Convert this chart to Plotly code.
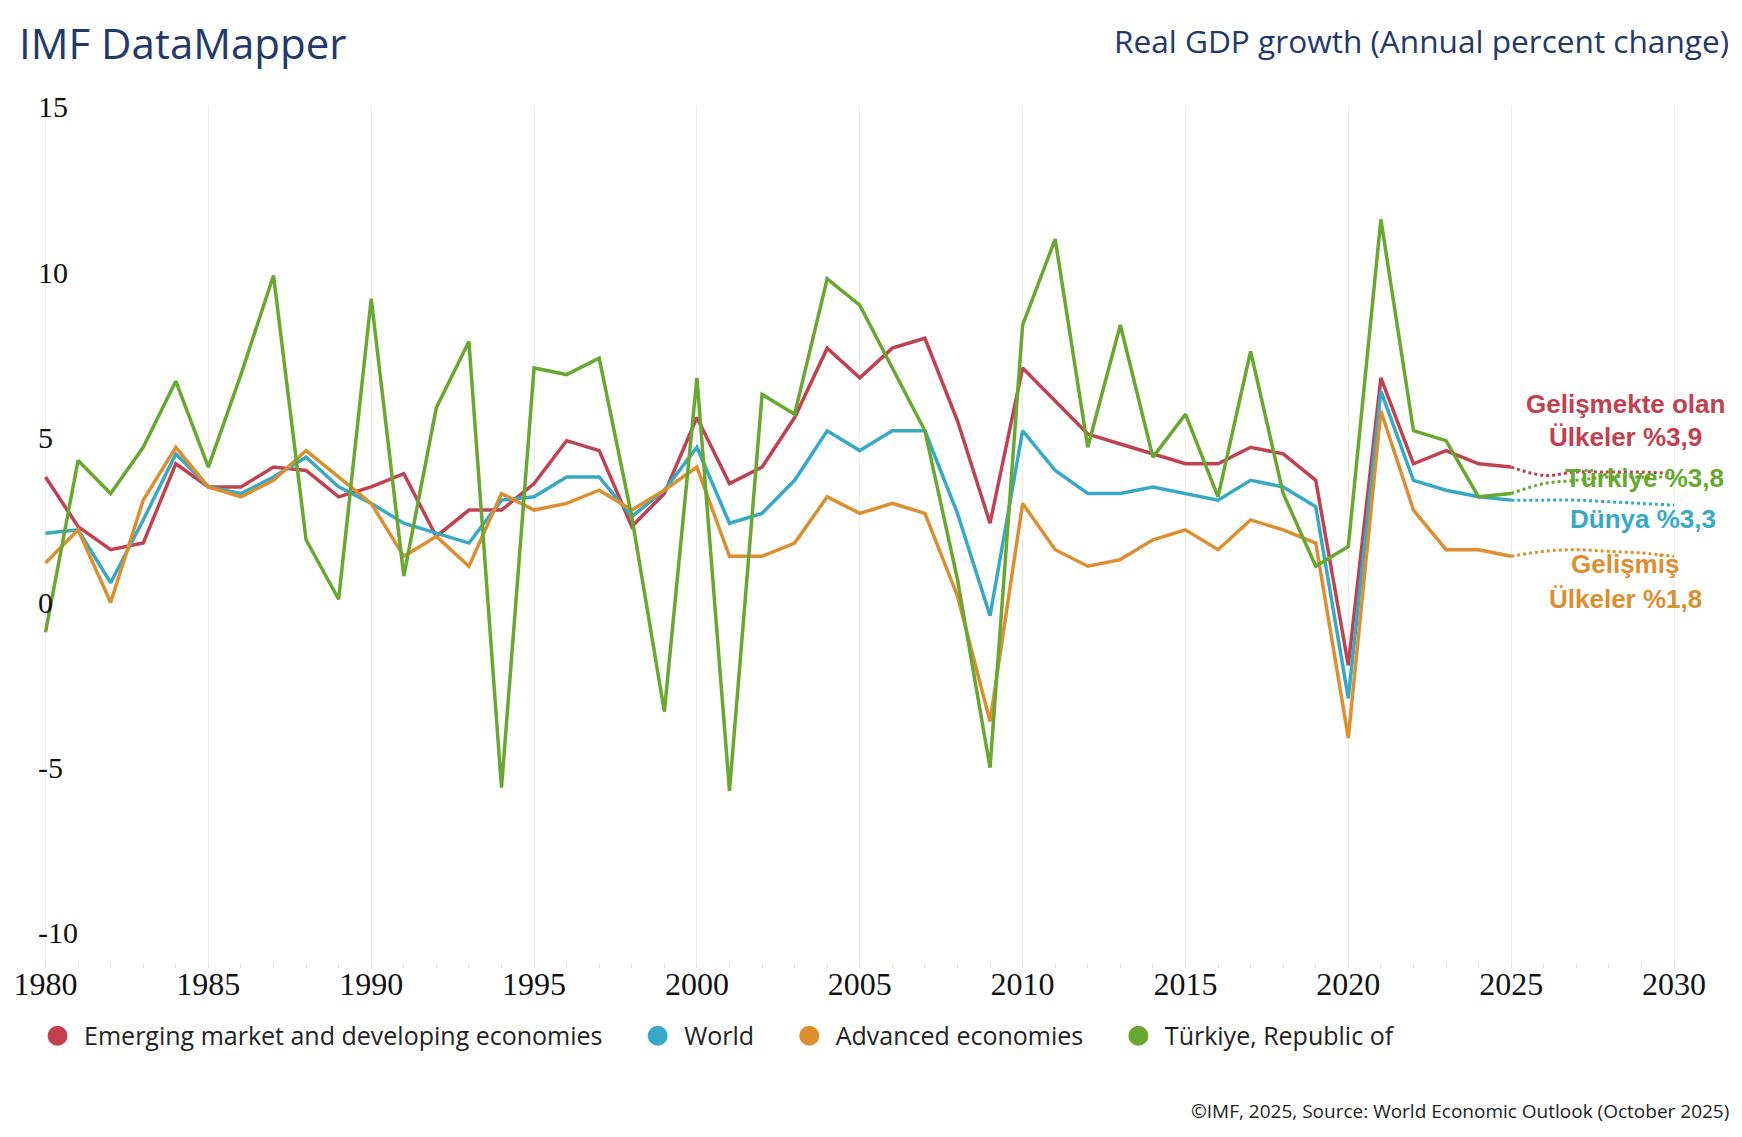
import plotly.graph_objects as go

years = list(range(1980, 2026))
proj_years = list(range(2025, 2031))

emde = [3.8, 2.3, 1.6, 1.8, 4.2, 3.5, 3.5, 4.1, 4.0, 3.2,
        3.5, 3.9, 2.0, 2.8, 2.8, 3.6, 4.9, 4.6, 2.3, 3.3,
        5.6, 3.6, 4.1, 5.6, 7.7, 6.8, 7.7, 8.0, 5.5, 2.4,
        7.1, 6.1, 5.1, 4.8, 4.5, 4.2, 4.2, 4.7, 4.5, 3.7,
        -1.9, 6.8, 4.2, 4.6, 4.2, 4.1]
emde_proj = [4.1, 3.85, 3.95, 3.95, 3.95, 3.9]

world = [2.1, 2.2, 0.6, 2.5, 4.5, 3.5, 3.3, 3.8, 4.4, 3.5,
         3.0, 2.4, 2.1, 1.8, 3.1, 3.2, 3.8, 3.8, 2.6, 3.4,
         4.7, 2.4, 2.7, 3.7, 5.2, 4.6, 5.2, 5.2, 2.7, -0.4,
         5.2, 4.0, 3.3, 3.3, 3.5, 3.3, 3.1, 3.7, 3.5, 2.9,
         -2.9, 6.4, 3.7, 3.4, 3.2, 3.1]
world_proj = [3.1, 3.1, 3.1, 3.05, 3.0, 2.95]

adv = [1.2, 2.2, 0.0, 3.1, 4.7, 3.5, 3.2, 3.7, 4.6, 3.8,
       3.0, 1.4, 2.0, 1.1, 3.3, 2.8, 3.0, 3.4, 2.8, 3.4,
       4.1, 1.4, 1.4, 1.8, 3.2, 2.7, 3.0, 2.7, 0.2, -3.6,
       3.0, 1.6, 1.1, 1.3, 1.9, 2.2, 1.6, 2.5, 2.2, 1.8,
       -4.1, 5.8, 2.8, 1.6, 1.6, 1.4]
adv_proj = [1.4, 1.55, 1.6, 1.55, 1.5, 1.4]

tur = [-0.9, 4.3, 3.3, 4.7, 6.7, 4.1, 6.9, 9.9, 1.9, 0.1,
       9.2, 0.8, 5.9, 7.9, -5.6, 7.1, 6.9, 7.4, 2.6, -3.3,
       6.8, -5.7, 6.3, 5.7, 9.8, 9.0, 7.1, 5.2, 0.7, -5.0,
       8.4, 11.0, 4.7, 8.4, 4.4, 5.7, 3.2, 7.6, 3.3, 1.1,
       1.7, 11.6, 5.2, 4.9, 3.2, 3.3]
tur_proj = [3.3, 3.6, 3.7, 3.8, 3.8, 3.8]

series_names = ["Emerging market and developing economies", "World",
                "Advanced economies", "Türkiye, Republic of"]
series_colors = ["#c2404f", "#36a9c7", "#dd8e2f", "#67a82e"]
series_vals = [emde, world, adv, tur]
series_proj = [emde_proj, world_proj, adv_proj, tur_proj]

x_ticks = list(range(1980, 2031, 5))
y_ticks = [-10, -5, 0, 5, 10, 15]
y_ticktext = ["-10", "-5", "0", "5", "10", "15"]

side_labels = [
    ("Gelişmekte olan", 2028.5, 6.0, 0),
    ("Ülkeler %3,9", 2028.5, 5.0, 0),
    ("Türkiye %3,8", 2029.1, 3.77, 3),
    ("Dünya %3,3", 2029.05, 2.53, 1),
    ("Gelişmiş", 2028.5, 1.17, 2),
    ("Ülkeler %1,8", 2028.5, 0.11, 2),
]

NAVY = "#23386b"
PAD = "\u00a0" * 3 + "\u2009"
fig = go.Figure()

for name, col, vals, proj in zip(series_names, series_colors, series_vals, series_proj):
    fig.add_trace(go.Scatter(x=proj_years, y=proj, mode="lines",
                             line=dict(color=col, width=3, dash="dot", shape="spline"),
                             showlegend=False, hoverinfo="skip"))
for name, col, vals, proj in zip(series_names, series_colors, series_vals, series_proj):
    fig.add_trace(go.Scatter(x=years, y=vals, mode="lines",
                             line=dict(color=col, width=3.5),
                             showlegend=False, name=name))
for name, col in zip(series_names, series_colors):
    fig.add_trace(go.Scatter(x=[None], y=[None], mode="markers",
                             marker=dict(color=col, size=16, symbol="circle",
                                         line=dict(color=col, width=4)),
                             name=name + PAD, showlegend=True))

for text, xv, yv, ci in side_labels:
    fig.add_annotation(x=xv, y=yv, xref="x", yref="y", text="<b>" + text + "</b>",
                       showarrow=False, xanchor="center", yanchor="middle",
                       font=dict(family="Liberation Sans", size=26, color=series_colors[ci]))

for tv, tt in zip(y_ticks, y_ticktext):
    fig.add_annotation(x=0.0, y=tv, xref="paper", yref="y", text=tt,
                       showarrow=False, xanchor="left", yanchor="middle",
                       font=dict(family="Liberation Serif", size=30, color="#111111"))

fig.add_annotation(x=-0.0114, y=1.0735, xref="paper", yref="paper", text="IMF DataMapper",
                   showarrow=False, xanchor="left", yanchor="middle",
                   font=dict(family="Open Sans", size=42, color=NAVY))
fig.add_annotation(x=1.0168, y=1.0747, xref="paper", yref="paper",
                   text="Real GDP growth (Annual percent change)",
                   showarrow=False, xanchor="right", yanchor="middle",
                   font=dict(family="Open Sans", size=31.6, color=NAVY))
fig.add_annotation(x=1.0168, y=-0.1739, xref="paper", yref="paper",
                   text="©IMF, 2025, Source: World Economic Outlook (October 2025)",
                   showarrow=False, xanchor="right", yanchor="middle",
                   font=dict(family="Open Sans", size=19, color="#222222"))

# The page body adds an 8px offset, so the figure is 8px smaller on each axis.
fig.update_layout(
    width=1734, height=1129,
    margin=dict(l=28, r=39, t=97, b=175, autoexpand=False),
    paper_bgcolor="white", plot_bgcolor="white",
    showlegend=True,
    legend=dict(orientation="h", xref="container", yref="container",
                x=0.0133, xanchor="left", y=0.0895, yanchor="middle",
                font=dict(family="Open Sans", size=25, color="#222222"),
                itemsizing="trace", itemwidth=43, bgcolor="rgba(0,0,0,0)"),
    xaxis=dict(range=[1979.708, 2030.89], tickvals=x_ticks, showgrid=True,
               gridcolor="#ececec", gridwidth=1, zeroline=False, showline=False,
               automargin=False, ticks="",
               tickfont=dict(family="Liberation Serif", size=32, color="#111111"),
               minor=dict(dtick=1, tick0=1980, ticks="outside", ticklen=5,
                          tickcolor="#e2e2e2", showgrid=False)),
    yaxis=dict(range=[-10.88, 15.06], tickvals=y_ticks, showticklabels=False,
               showgrid=False, zeroline=False, showline=False, automargin=False,
               ticks=""),
)

fig.write_html("out.html")
